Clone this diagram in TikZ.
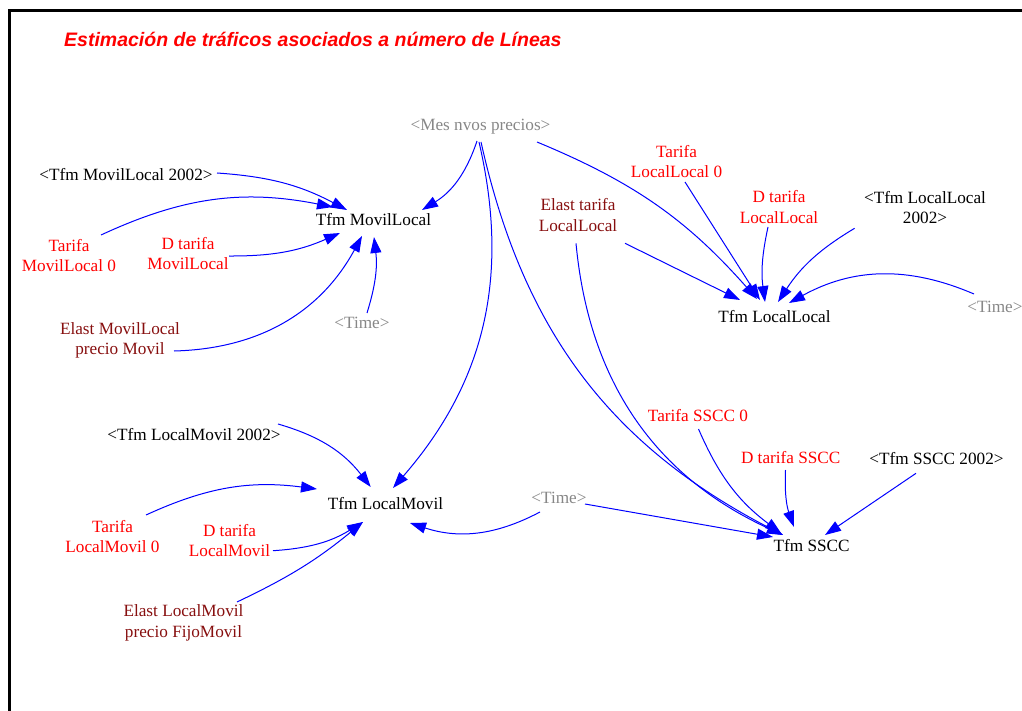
\documentclass[tikz,border=0pt]{standalone}
\usepackage{fontspec}
\setmainfont{Liberation Serif}
\newfontfamily\titlefont{Liberation Sans}
\usetikzlibrary{arrows.meta}
\definecolor{vred}{RGB}{255,0,0}
\definecolor{vdark}{RGB}{135,15,15}
\definecolor{vgray}{RGB}{135,135,135}
\definecolor{vblue}{RGB}{0,0,255}
\tikzset{
  lbl/.style={inner sep=0pt, font=\fontsize{17.2}{20.5}\selectfont, align=center},
  one/.style={lbl, text height=11.5pt, text depth=0.5pt},
  two/.style={lbl},
  blk/.style={text=black},
  redt/.style={text=vred},
  drk/.style={text=vdark},
  gry/.style={text=vgray},
  arr/.style={draw=vblue, line width=1pt, -{Triangle[length=16pt,width=11pt]}}
}
\begin{document}
\begin{tikzpicture}[x=1pt,y=1pt]
\useasboundingbox (0,0) rectangle (1022,-711);
\draw[line width=2.3pt] (9.5,-711) -- (9.5,-10.5) -- (1022,-10.5);
\node[anchor=base west, inner sep=0pt, text=vred, font=\titlefont\bfseries\itshape\fontsize{19.5}{22}\selectfont] (title) at (64,-47) {Estimación de tráficos asociados a número de Líneas};

% nodes
\node[one,gry] (mes) at (480.5,-125) {<Mes nvos precios>};
\node[one,blk] (tml2002) at (126,-175) {<Tfm MovilLocal 2002>};
\node[one,blk] (tml) at (373.5,-220) {Tfm MovilLocal};
\node[two,redt] (tarml0) at (69,-255.5) {Tarifa\\MovilLocal 0};
\node[two,redt] (dtml) at (188,-253.5) {D tarifa\\MovilLocal};
\node[one,gry] (time1) at (362,-323) {<Time>};
\node[two,drk] (elml) at (120,-340.5) {Elast MovilLocal\\precio Movil};

\node[two,redt] (tll0) at (676.5,-161.7) {Tarifa\\LocalLocal 0};
\node[two,redt] (dtll) at (779,-207) {D tarifa\\LocalLocal};
\node[two,blk] (tll2002) at (925,-207.3) {<Tfm LocalLocal\\2002>};
\node[two,drk] (elll) at (578,-215) {Elast tarifa\\LocalLocal};
\node[one,blk] (tll) at (774.5,-316.5) {Tfm LocalLocal};
\node[one,gry] (time2) at (995,-306.5) {<Time>};

\node[one,blk] (tlm2002) at (194,-435) {<Tfm LocalMovil 2002>};
\node[one,blk] (tlm) at (385.5,-504) {Tfm LocalMovil};
\node[two,redt] (tarlm0) at (112.5,-536.3) {Tarifa\\LocalMovil 0};
\node[two,redt] (dtlm) at (229.5,-540.3) {D tarifa\\LocalMovil};
\node[two,drk] (ellm) at (183.5,-623) {Elast LocalMovil\\precio FijoMovil};
\node[one,gry] (time3) at (559,-498.3) {<Time>};

\node[one,redt] (tsscc0) at (698,-416) {Tarifa SSCC 0};
\node[one,redt] (dtsscc) at (790.7,-457.7) {D tarifa SSCC};
\node[one,blk] (tsscc2002) at (936.5,-458.7) {<Tfm SSCC 2002>};
\node[one,blk] (tsscc) at (811.6,-545.7) {Tfm SSCC};

% connectors: Tfm MovilLocal
\draw[arr] ([xshift=91pt,yshift=2pt]tml2002.center) to[bend left=12] ([xshift=-26.5pt,yshift=10pt]tml.center);
\draw[arr] ([xshift=32pt,yshift=20.5pt]tarml0.center) to[bend left=18] ([xshift=-40.5pt,yshift=13pt]tml.center);
\draw[arr] ([xshift=41pt,yshift=-2.5pt]dtml.center) to[bend right=12] ([xshift=-33.5pt,yshift=-13pt]tml.center);
\draw[arr] ([xshift=54pt,yshift=-10.5pt]elml.center) to[bend right=30] ([xshift=-11.5pt,yshift=-16pt]tml.center);
\draw[arr] ([xshift=5pt,yshift=10pt]time1.center) to[bend right=12] ([xshift=0.5pt,yshift=-17pt]tml.center);
\draw[arr] ([xshift=-3.5pt,yshift=-16pt]mes.center) to[bend left=20] ([xshift=48.5pt,yshift=10pt]tml.center);

% Tfm LocalLocal
\draw[arr] ([xshift=56.5pt,yshift=-17pt]mes.center) to[bend left=13] ([xshift=-17.5pt,yshift=17.5pt]tll.center);
\draw[arr] ([xshift=8.5pt,yshift=-20.3pt]tll0.center) -- ([xshift=-14.5pt,yshift=16.5pt]tll.center);
\draw[arr] ([xshift=-11pt,yshift=-20pt]dtll.center) to[bend right=10] ([xshift=-9.5pt,yshift=14.5pt]tll.center);
\draw[arr] ([xshift=-70.4pt,yshift=-21pt]tll2002.center) to[bend right=13] ([xshift=3.5pt,yshift=14.5pt]tll.center);
\draw[arr] ([xshift=-21pt,yshift=12.5pt]time2.center) to[bend right=26] ([xshift=14.5pt,yshift=13.5pt]tll.center);
\draw[arr] ([xshift=47pt,yshift=-28.3pt]elll.center) -- ([xshift=-34.5pt,yshift=16.5pt]tll.center);

% Tfm SSCC
\draw[arr] ([xshift=0.5pt,yshift=-17pt]mes.center) to[bend right=25] ([xshift=-28.6pt,yshift=10.7pt]tsscc.center);
\draw[arr] ([xshift=-2pt,yshift=-28.3pt]elll.center) to[bend right=30] ([xshift=-28.6pt,yshift=10.7pt]tsscc.center);
\draw[arr] ([xshift=0.5pt,yshift=-13pt]tsscc0.center) to[bend right=15] ([xshift=-30.6pt,yshift=12.7pt]tsscc.center);
\draw[arr] ([xshift=-5.2pt,yshift=-12.3pt]dtsscc.center) to[bend right=11] ([xshift=-17.6pt,yshift=18.7pt]tsscc.center);
\draw[arr] ([xshift=-20.5pt,yshift=-14.6pt]tsscc2002.center) -- ([xshift=13.4pt,yshift=10.7pt]tsscc.center);
\draw[arr] ([xshift=26pt,yshift=-5.7pt]time3.center) -- ([xshift=-38.6pt,yshift=8.7pt]tsscc.center);

% Tfm LocalMovil
\draw[arr] ([xshift=-19pt,yshift=-13.7pt]time3.center) to[bend left=23] ([xshift=24.5pt,yshift=-19pt]tlm.center);
\draw[arr] ([xshift=-1.5pt,yshift=-17pt]mes.center) to[bend left=27] ([xshift=7.5pt,yshift=16pt]tlm.center);
\draw[arr] ([xshift=84pt,yshift=11pt]tlm2002.center) to[bend left=18] ([xshift=-14.8pt,yshift=17pt]tlm.center);
\draw[arr] ([xshift=33.5pt,yshift=21.3pt]tarlm0.center) to[bend left=16] ([xshift=-68.5pt,yshift=15pt]tlm.center);
\draw[arr] ([xshift=43.5pt,yshift=-10.4pt]dtlm.center) to[bend right=14] ([xshift=-22.5pt,yshift=-18pt]tlm.center);
\draw[arr] ([xshift=53.5pt,yshift=21pt]ellm.center) to[bend right=7] ([xshift=-22.5pt,yshift=-18pt]tlm.center);
\end{tikzpicture}
\end{document}
